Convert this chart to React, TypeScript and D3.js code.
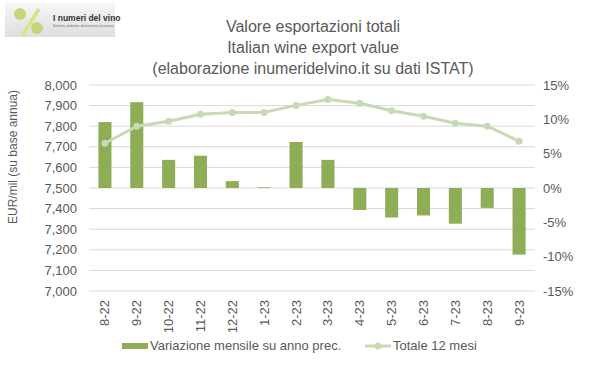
import * as d3 from "d3";

const months = ["8-22", "9-22", "10-22", "11-22", "12-22", "1-23", "2-23", "3-23", "4-23", "5-23", "6-23", "7-23", "8-23", "9-23"];
const monthlyChange = [9.6, 12.5, 4.1, 4.7, 1.0, 0.1, 6.7, 4.1, -3.2, -4.3, -4.0, -5.2, -2.9, -9.7];
const total12 = [7717, 7800, 7824, 7858, 7867, 7867, 7901, 7930, 7911, 7875, 7848, 7814, 7800, 7727];
const leftTicks = [7000, 7100, 7200, 7300, 7400, 7500, 7600, 7700, 7800, 7900, 8000];
const rightTicks = [-15, -10, -5, 0, 5, 10, 15];
const titleLines = ["Valore esportazioni totali", "Italian wine export value", "(elaborazione inumeridelvino.it su dati ISTAT)"];

const font = "'Liberation Sans', Arial, sans-serif";
const textColor = "#595959";
const barColor = "#8fad55";
const lineColor = "#c8dab4";

function Logo() {
  return (
    <g>
      <defs>
        <linearGradient id="logoBg" x1="0" x2="0" y1="0" y2="1">
          <stop offset="0" stopColor="#f6f6f6" />
          <stop offset="1" stopColor="#dedede" />
        </linearGradient>
      </defs>
      <rect x={5} y={3} width={110} height={34} fill="url(#logoBg)" />
      <line x1={22} y1={36} x2={39} y2={9} stroke="#d6e68a" strokeWidth={4} />
      <circle cx={20} cy={14} r={6} fill="#c2d77a" />
      <circle cx={37} cy={28} r={6} fill="#c2d77a" />
      <text x={53} y={21} fontFamily={font} fontSize={8.5} fontWeight="bold" fill="#333">I numeri del vino</text>
      <text x={53} y={27} fontFamily={font} fontSize={2.6} fill="#666">Statistiche, produzione, dati di mercato e di consumo</text>
    </g>
  );
}

export default function App() {
  const width = 599;
  const height = 366;
  const plotLeft = 89;
  const plotRight = 535;
  const yTop = 85;
  const yBottom = 291;

  const x = d3.scaleBand().domain(months).range([plotLeft, plotRight]).paddingInner(0.59).paddingOuter(0.295);
  const xc = d3.scalePoint().domain(months).range([plotLeft, plotRight]).padding(0.5);
  const yLeft = d3.scaleLinear().domain([7000, 8000]).range([yBottom, yTop]);
  const yRight = d3.scaleLinear().domain([-15, 15]).range([yBottom, yTop]);

  const line = d3
    .line<number>()
    .x((_, i) => xc(months[i]) as number)
    .y((d) => yLeft(d));

  return (
    <svg width={width} height={height} style={{ position: "absolute", left: 0, top: 0, background: "#fff" }}>
      <Logo />
      {titleLines.map((t, i) => (
        <text key={i} x={313} y={32 + i * 21} textAnchor="middle" fontFamily={font} fontSize={16} fill={textColor}>
          {t}
        </text>
      ))}

      {leftTicks.map((t) => (
        <g key={t}>
          <line x1={plotLeft} x2={plotRight} y1={yLeft(t)} y2={yLeft(t)} stroke="#d9d9d9" strokeWidth={1} />
          <text x={77} y={yLeft(t)} dy="0.35em" textAnchor="end" fontFamily={font} fontSize={13} fill={textColor}>
            {d3.format(",")(t)}
          </text>
        </g>
      ))}
      {rightTicks.map((t) => (
        <text key={t} x={543} y={yRight(t)} dy="0.35em" textAnchor="start" fontFamily={font} fontSize={13} fill={textColor}>
          {t + "%"}
        </text>
      ))}

      <text
        transform={`translate(17, 157) rotate(-90)`}
        textAnchor="middle"
        fontFamily={font}
        fontSize={12}
        fill={textColor}
      >
        EUR/mil  (su base annua)
      </text>

      {monthlyChange.map((v, i) => (
        <rect
          key={i}
          x={x(months[i])}
          width={x.bandwidth()}
          y={yRight(Math.max(0, v))}
          height={Math.abs(yRight(v) - yRight(0))}
          fill={barColor}
        />
      ))}

      <path d={line(total12) || ""} fill="none" stroke={lineColor} strokeWidth={3} strokeLinejoin="round" />
      {total12.map((v, i) => (
        <circle key={i} cx={xc(months[i])} cy={yLeft(v)} r={3.5} fill={lineColor} />
      ))}

      {months.map((m) => (
        <text
          key={m}
          transform={`translate(${(xc(m) as number) + 4.5}, 300) rotate(-90)`}
          textAnchor="end"
          fontFamily={font}
          fontSize={13}
          fill={textColor}
        >
          {m}
        </text>
      ))}

      <g>
        <rect x={122} y={343} width={26} height={6} fill={barColor} />
        <text x={150} y={350} fontFamily={font} fontSize={13} fill={textColor}>
          Variazione mensile su anno prec.
        </text>
        <line x1={365} x2={391} y1={346} y2={346} stroke={lineColor} strokeWidth={3} />
        <circle cx={378} cy={346} r={3.5} fill={lineColor} />
        <text x={393} y={350} fontFamily={font} fontSize={13} fill={textColor}>
          Totale 12 mesi
        </text>
      </g>
    </svg>
  );
}
